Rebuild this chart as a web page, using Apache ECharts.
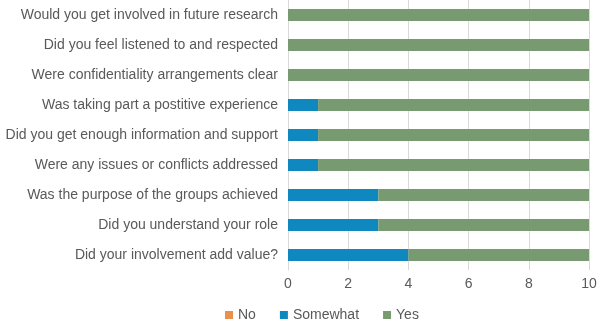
<!DOCTYPE html>
<html>
<head>
<meta charset="utf-8">
<script src="https://cdn.jsdelivr.net/npm/echarts@6/dist/echarts.min.js"></script>
<style>
  html, body { margin: 0; padding: 0; background: #fff; }
  #chart { width: 597px; height: 320px; }
</style>
</head>
<body>
<div id="chart"></div>
<script>
// questions, bottom to top (category axis starts at the bottom)
const questions = [
  "Did your involvement add value?",
  "Did you understand your role",
  "Was the purpose of the groups achieved",
  "Were any issues or conflicts addressed",
  "Did you get enough information and support",
  "Was taking part a postitive experience",
  "Were confidentiality arrangements clear",
  "Did you feel listened to and respected",
  "Would you get involved in future research"
];
const noValues = [0, 0, 0, 0, 0, 0, 0, 0, 0];
const somewhatValues = [4, 3, 3, 1, 1, 1, 0, 0, 0];
const yesValues = [6, 7, 7, 9, 9, 9, 10, 10, 10];
const xTicks = [0, 2, 4, 6, 8, 10];

const chart = echarts.init(document.getElementById("chart"));

const mkSeries = (name, data, color) => ({
  name: name,
  type: "bar",
  stack: "total",
  data: data,
  barWidth: 12,
  itemStyle: { color: color },
});

chart.setOption({
  animation: false,
  textStyle: { fontFamily: "Liberation Sans, Arial, sans-serif" },
  grid: { left: 288, right: 8, top: 0, height: 270, outerBoundsMode: "none" },
  legend: {
    top: 303,
    left: 220,
    itemWidth: 8,
    itemHeight: 8,
    itemGap: 24,
    icon: "rect",
    textStyle: { color: "#595959", fontSize: 14 },
    data: ["No", "Somewhat", "Yes"],
  },
  xAxis: {
    type: "value",
    min: xTicks[0],
    max: xTicks[xTicks.length - 1],
    interval: 2,
    axisLine: { show: false },
    axisTick: { show: false },
    splitLine: { lineStyle: { color: "#d9d9d9" } },
    axisLabel: { color: "#595959", fontSize: 14, margin: 7 },
  },
  yAxis: {
    type: "category",
    data: questions,
    axisLine: { lineStyle: { color: "#d9d9d9" } },
    axisTick: { show: false },
    axisLabel: { color: "#595959", fontSize: 14, margin: 10 },
  },
  series: [
    mkSeries("No", noValues, "#e8914e"),
    mkSeries("Somewhat", somewhatValues, "#0f87bf"),
    mkSeries("Yes", yesValues, "#789a70"),
  ],
});
</script>
</body>
</html>
